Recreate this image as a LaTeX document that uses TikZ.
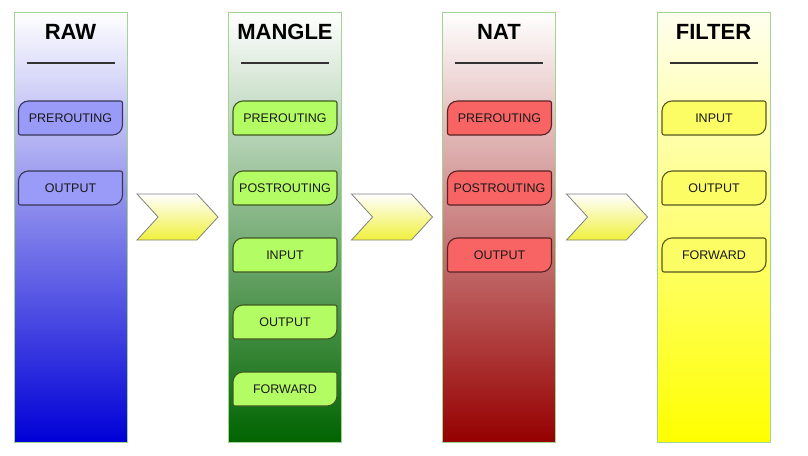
\documentclass[tikz,border=0pt]{standalone}
\usepackage{fontspec}
\setmainfont{Liberation Sans}
\usetikzlibrary{shapes.symbols,positioning}

\definecolor{framegreen}{RGB}{160,212,144}
\definecolor{rawblue}{RGB}{0,0,215}
\definecolor{manglegreen}{RGB}{0,100,0}
\definecolor{natred}{RGB}{150,0,0}
\definecolor{filteryellow}{RGB}{255,255,0}
\definecolor{rawhook}{RGB}{154,154,248}
\definecolor{manglehook}{RGB}{180,252,100}
\definecolor{nathook}{RGB}{248,100,100}
\definecolor{filterhook}{RGB}{252,252,100}
\definecolor{hopyellow}{RGB}{240,240,60}

\tikzset{
  chain/.style={draw=framegreen, line width=0.8pt, minimum width=113pt,
    minimum height=430pt, inner sep=0pt},
  tabletitle/.style={font=\bfseries\fontsize{22}{22}\selectfont},
  hook/.style={draw=#1hook!35!black, fill=#1hook, line width=1.1pt},
  hooktext/.style={font=\fontsize{12.5}{12.5}\selectfont, text=black!90},
  rule/.style={line width=2.2pt, black!80},
  hop/.style={signal, signal from=west, signal to=east, signal pointer angle=95,
    draw=black!50, line width=0.8pt, top color=white, bottom color=hopyellow,
    minimum width=81pt, minimum height=46pt, inner sep=0pt}
}

\begin{document}
\begin{tikzpicture}[x=1pt,y=-1pt]
\useasboundingbox (0,0) rectangle (808,455);

% the four tables
\node (raw)    [chain, top color=white, bottom color=rawblue]      at (70.5,227) {};
\node (mangle) [chain, top color=white, bottom color=manglegreen]  at (285,227)  {};
\node (nat)    [chain, top color=white, bottom color=natred]       at (499,227)  {};
\node (filter) [chain, top color=yellow!6, bottom color=filteryellow] at (713.5,227) {};

\foreach \cx/\nm/\txt in {70.5/raw/RAW, 285/mangle/MANGLE, 499/nat/NAT, 713.5/filter/FILTER}
{
\node (\nm-title) [tabletitle] at (\cx,32) {\txt};
\draw[rule] (\cx-44,63) -- (\cx+44,63);
}

% chains of each table
\foreach \tb/\cx/\cy/\nm/\txt in {raw/70.5/118/pre/PREROUTING, raw/70.5/188/out/OUTPUT,
  mangle/285/118/pre/PREROUTING, mangle/285/188/post/POSTROUTING, mangle/285/255/in/INPUT,
  mangle/285/322/out/OUTPUT, mangle/285/389/fwd/FORWARD,
  nat/499.5/118/pre/PREROUTING, nat/499.5/188/post/POSTROUTING, nat/499.5/255/out/OUTPUT,
  filter/714/118/in/INPUT, filter/714/188/out/OUTPUT, filter/714/255/fwd/FORWARD}
{
\draw[hook=\tb]
  (\cx-52,\cy-7) .. controls (\cx-52,\cy-12.52) and (\cx-47.52,\cy-17) .. (\cx-42,\cy-17)
  -- (\cx+50,\cy-17) .. controls (\cx+51.1,\cy-17) and (\cx+52,\cy-16.1) .. (\cx+52,\cy-15)
  -- (\cx+52,\cy+7) .. controls (\cx+52,\cy+12.52) and (\cx+47.52,\cy+17) .. (\cx+42,\cy+17)
  -- (\cx-50,\cy+17) .. controls (\cx-51.1,\cy+17) and (\cx-52,\cy+16.1) .. (\cx-52,\cy+15)
  -- cycle;
\node (\tb-\nm) [hooktext] at (\cx,\cy) {\txt};
}

% hops between the tables
\node (hop1) [hop] at (177.5,217) {};
\node (hop2) [hop] at (392,217) {};
\node (hop3) [hop] at (607,217) {};
\end{tikzpicture}
\end{document}
